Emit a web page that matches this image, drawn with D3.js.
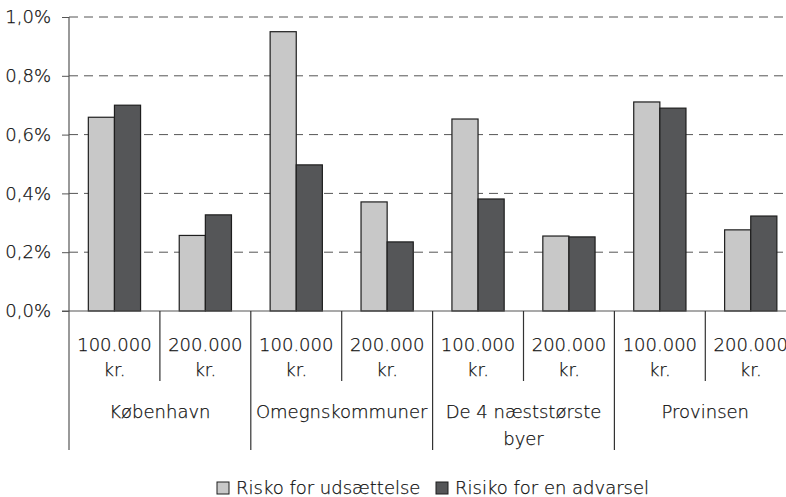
<!DOCTYPE html>
<html>
<head>
<meta charset="utf-8">
<script src="https://cdn.jsdelivr.net/npm/d3@7"></script>
<style>
  body { margin: 0; background: #fff; }
  text { font-family: "DejaVu Sans", sans-serif; font-weight: 200; fill: #111; stroke: #111; stroke-width: 0.25px; }
</style>
</head>
<body>
<script>
// data
var groups = ["København", "Omegnskommuner", "De 4 næststørste byer", "Provinsen"];
var amounts = ["100.000 kr.", "200.000 kr."];
var seriesNames = ["Risko for udsættelse", "Risiko for en advarsel"];
var udsaettelse = [0.659, 0.257, 0.950, 0.371, 0.653, 0.255, 0.711, 0.276];
var advarsel = [0.700, 0.327, 0.497, 0.235, 0.381, 0.252, 0.690, 0.323];
var yTicks = [0, 0.2, 0.4, 0.6, 0.8, 1.0];

var colors = ["#c8c8c8", "#555658"];

var width = 786, height = 497;
var plotLeft = 69, plotTop = 17, plotBottom = 311;
var slotW = 90.9;

var svg = d3.select("body")
			.append("svg")
			.attr("width", width)
			.attr("height", height);

// one slot per group/amount pair
var slots = [];
groups.forEach(function(g, gi){
	amounts.forEach(function(a, ai){
		slots.push({ group: g, amount: a, idx: gi * 2 + ai });
	});
});

var x = d3.scaleBand()
		.domain(slots.map(function(d){ return d.idx; }))
		.range([plotLeft, plotLeft + slotW * slots.length])
		.paddingInner(0)
		.paddingOuter(0);

var xInner = d3.scaleBand()
		.domain([0, 1])
		.range([0, x.bandwidth()])
		.paddingOuter(0.74)
		.paddingInner(0);

var y = d3.scaleLinear()
		.domain([0, 1.0])
		.range([plotBottom, plotTop]);

// gridlines
svg.append("g")
	.selectAll("line.grid")
	.data(yTicks.filter(function(d){ return d > 0; }))
	.enter()
	.append("line")
	.attr("x1", plotLeft)
	.attr("x2", width)
	.attr("y1", function(d){ return y(d); })
	.attr("y2", function(d){ return y(d); })
	.attr("stroke", "#555")
	.attr("stroke-width", 1)
	.attr("stroke-dasharray", "9,6");

// y axis
var yAxis = d3.axisLeft(y)
		.tickValues(yTicks)
		.tickSize(7)
		.tickFormat(function(d){ return d3.format(".1f")(d).replace(".", ",") + "%"; });

var gy = svg.append("g")
		.attr("transform", "translate(" + plotLeft + ",0)")
		.call(yAxis);
gy.select(".domain").remove();
gy.selectAll(".tick line").attr("stroke", "#555");
gy.selectAll(".tick text")
	.attr("x", -18)
	.style("font-size", "18px")
	.style("font-family", "\"DejaVu Sans\", sans-serif")
	.attr("fill", "#111");

// bars
var series = [udsaettelse, advarsel];
series.forEach(function(vals, si){
	svg.append("g")
		.selectAll("rect")
		.data(vals)
		.enter()
		.append("rect")
		.attr("x", function(d, i){ return x(i) + xInner(si); })
		.attr("y", function(d){ return y(d); })
		.attr("width", xInner.bandwidth())
		.attr("height", function(d){ return y(0) - y(d); })
		.attr("fill", colors[si])
		.attr("stroke", "#1e1e1e")
		.attr("stroke-width", 1.2);
});

// axis lines
svg.append("line")
	.attr("x1", plotLeft).attr("x2", plotLeft)
	.attr("y1", plotTop).attr("y2", 450)
	.attr("stroke", "#555").attr("stroke-width", 1.2);
svg.append("line")
	.attr("x1", plotLeft - 7).attr("x2", width)
	.attr("y1", plotBottom).attr("y2", plotBottom)
	.attr("stroke", "#555").attr("stroke-width", 1.2);

// slot dividers: short between amounts, long between groups
slots.forEach(function(d){
	if(d.idx === 0) return;
	svg.append("line")
		.attr("x1", x(d.idx)).attr("x2", x(d.idx))
		.attr("y1", plotBottom)
		.attr("y2", d.idx % 2 === 0 ? 450 : 381)
		.attr("stroke", "#333").attr("stroke-width", 1.2);
});

// amount labels
var amt = svg.append("g")
		.selectAll("text.amt")
		.data(slots)
		.enter()
		.append("text")
		.attr("text-anchor", "middle")
		.style("font-size", "18px");
amt.append("tspan")
	.attr("x", function(d){ return x(d.idx) + x.bandwidth() / 2; })
	.attr("y", 351)
	.text(function(d){ return d.amount.split(" ")[0]; });
amt.append("tspan")
	.attr("x", function(d){ return x(d.idx) + x.bandwidth() / 2; })
	.attr("y", 376)
	.text(function(d){ return d.amount.split(" ")[1]; });

// group labels, wrapped like the original
var groupLines = [["København"], ["Omegnskommuner"], ["De 4 næststørste", "byer"], ["Provinsen"]];
groups.forEach(function(g, gi){
	var cx = x(gi * 2) + x.bandwidth();
	var t = svg.append("text")
		.attr("text-anchor", "middle")
		.style("font-size", "18px");
	groupLines[gi].forEach(function(line, li){
		t.append("tspan")
			.attr("x", cx)
			.attr("y", 418 + li * 27)
			.text(line);
	});
});

// legend
var legendX = [217, 436];
seriesNames.forEach(function(name, si){
	svg.append("rect")
		.attr("x", legendX[si])
		.attr("y", 482)
		.attr("width", 12)
		.attr("height", 12)
		.attr("fill", colors[si])
		.attr("stroke", "#1e1e1e")
		.attr("stroke-width", 1);
	svg.append("text")
		.attr("x", legendX[si] + 19)
		.attr("y", 494)
		.style("font-size", "18px")
		.text(name);
});
</script>
</body>
</html>
